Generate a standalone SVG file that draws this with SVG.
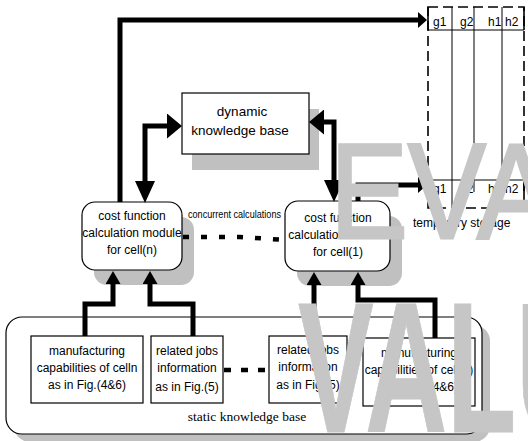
<svg xmlns="http://www.w3.org/2000/svg" width="528" height="441" viewBox="0 0 528 441">
<style>
.t{font-family:"Liberation Sans",Arial,sans-serif;font-size:12px;fill:#000;text-anchor:middle}
.s{font-family:"Liberation Sans",Arial,sans-serif;font-size:12px;fill:#000}
.box{fill:#fff;stroke:#000;stroke-width:1.2}
.sh{fill:#c0c0c0;stroke:none}
.c{fill:none;stroke:#000;stroke-width:5}
.dot{fill:none;stroke:#000;stroke-width:4.5}
.thin{stroke:#000;stroke-width:1;fill:none}
.wm{font-family:"Liberation Sans",Arial,sans-serif;fill:#c6c6c6;stroke:#c6c6c6}
</style>
<defs>
<marker id="aKB" markerUnits="userSpaceOnUse" markerWidth="15" markerHeight="25" viewBox="0 0 15 25" refX="0" refY="12.5" orient="auto-start-reverse"><path d="M0,0 L15,12.5 L0,25 z" fill="#000"/></marker>
<marker id="aDn" markerUnits="userSpaceOnUse" markerWidth="22" markerHeight="20" viewBox="0 0 22 20" refX="0" refY="10" orient="auto-start-reverse"><path d="M0,0 L22,10 L0,20 z" fill="#000"/></marker>
<marker id="aSt" markerUnits="userSpaceOnUse" markerWidth="9" markerHeight="16" viewBox="0 0 9 16" refX="0" refY="8" orient="auto"><path d="M0,0 L9,8 L0,16 z" fill="#000"/></marker>
<marker id="aUp" markerUnits="userSpaceOnUse" markerWidth="13" markerHeight="15" viewBox="0 0 13 15" refX="0" refY="7.5" orient="auto"><path d="M0,0 L13,7.5 L0,15 z" fill="#000"/></marker>
</defs>

<g id="static-kb">
<rect class="sh" x="14" y="325" width="476" height="117" rx="16"/>
<rect class="box" x="6" y="317" width="476" height="117" rx="16"/>
<text x="247" y="421" style="font-family:'Liberation Serif','Times New Roman',serif;font-size:13.5px;text-anchor:middle">static knowledge base</text>
</g>

<g id="box-mfg-n">
<rect class="box" x="31" y="336" width="112" height="67"/>
<text class="t" x="87" y="355">manufacturing</text>
<text class="t" x="87" y="372">capabilities of celln</text>
<text class="t" x="87" y="389">as in Fig.(4&amp;6)</text>
</g>
<g id="box-jobs-n">
<rect class="box" x="151" y="336" width="72" height="67"/>
<text class="t" x="187" y="355">related jobs</text>
<text class="t" x="187" y="372">information</text>
<text class="t" x="187" y="391">as in Fig.(5)</text>
</g>
<g id="box-jobs-1">
<rect class="box" x="269" y="336" width="78" height="67"/>
<text class="t" x="308" y="354">related jobs</text>
<text class="t" x="308" y="371">information</text>
<text class="t" x="308" y="389">as in Fig.(5)</text>
</g>
<g id="box-mfg-1">
<rect class="box" x="363" y="338" width="112" height="68"/>
<text class="t" x="419" y="357">manufacturing</text>
<text class="t" x="419" y="374">capabilities of cell(1)</text>
<text class="t" x="419" y="391">as in Fig.(4&amp;6)</text>
</g>

<g id="dynamic-kb">
<rect class="sh" x="192" y="109" width="127" height="61"/>
<rect class="box" x="182" y="93" width="127" height="61"/>
<text class="t" x="242" y="116" style="font-size:13.5px">dynamic</text>
<text class="t" x="240" y="135" style="font-size:13.5px">knowledge base</text>
</g>

<g id="cost-n">
<rect class="sh" x="94" y="217" width="100" height="68" rx="13"/>
<rect class="box" x="82" y="202" width="100" height="68" rx="13"/>
<text class="t" x="132" y="220">cost function</text>
<text class="t" x="132" y="237">calculation module</text>
<text class="t" x="132" y="254">for cell(n)</text>
</g>

<g id="cost-1">
<rect class="sh" x="297" y="216" width="105" height="70" rx="13"/>
<rect class="box" x="285" y="201" width="105" height="70" rx="13"/>
<text class="t" x="338" y="222">cost function</text>
<text class="t" x="338" y="239">calculation module</text>
<text class="t" x="338" y="256">for cell(1)</text>
</g>

<g id="temporary-storage">
<rect x="428" y="7" width="96" height="201" fill="none" stroke="#000" stroke-width="1.6" stroke-dasharray="10 5"/>
<path class="thin" d="M428,30 H524 M428,180 H524 M452,7 V208 M474,7 V192 M502,7 V190"/>
<path d="M428,7 V30 M524,7 V30 M428,180 V196 M524,180 V196" stroke="#000" stroke-width="1.6"/>
<text class="s" x="433" y="26">g1</text>
<text class="s" x="460" y="26">g2</text>
<text class="s" x="488" y="26">h1</text>
<text class="s" x="505" y="26">h2</text>
<text class="s" x="433" y="193">g1</text>
<text class="s" x="460" y="193">g2</text>
<text class="s" x="488" y="193">h1</text>
<text class="s" x="505" y="193">h2</text>
<text class="s" x="413" y="227">temporary storage</text>
</g>

<g id="connectors">
<path class="c" d="M120,202 V20 H418" marker-end="url(#aSt)"/>
<path class="c" d="M358,201 V185 H418" marker-end="url(#aSt)"/>
<path class="c" d="M145,181 V126 H167" marker-start="url(#aDn)" marker-end="url(#aKB)"/>
<path class="c" d="M334,180 V122 H324" marker-start="url(#aDn)" marker-end="url(#aKB)"/>
<path class="c" d="M85,336 V304 H113 V284" marker-end="url(#aUp)"/>
<path class="c" d="M193,336 V304 H150 V284" marker-end="url(#aUp)"/>
<path class="c" d="M314,336 V285" marker-end="url(#aUp)"/>
<path class="c" d="M435,338 V300 H358 V285" marker-end="url(#aUp)"/>
<path class="dot" d="M183,237 L240,237 L286,240" stroke-dasharray="6 12"/>
<path class="dot" d="M224,370 H269" stroke-dasharray="7 10"/>
<text x="188" y="218" style="font-family:'Liberation Sans',Arial,sans-serif;font-size:10px" textLength="93" lengthAdjust="spacingAndGlyphs">concurrent calculations</text>
</g>

<g id="watermark">
<text class="wm" x="330" y="238" style="font-size:135px;stroke-width:3" textLength="225" lengthAdjust="spacingAndGlyphs">EVA</text>
<text class="wm" x="298" y="432" style="font-size:186px;font-weight:bold;stroke-width:1" textLength="300" lengthAdjust="spacingAndGlyphs">VALU</text>
</g>
</svg>
